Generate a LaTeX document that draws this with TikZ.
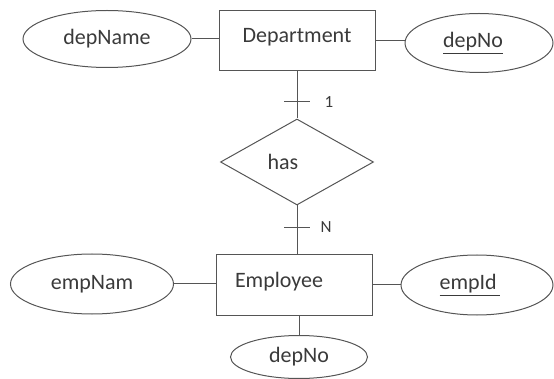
\documentclass[tikz,border=0pt]{standalone}
\usepackage{fontspec}
\setmainfont{Carlito}
\usepackage{xcolor}
\usepackage{tikz}
\usetikzlibrary{shapes,shapes.geometric,positioning,calc}
\definecolor{erline}{HTML}{555555}
\definecolor{ertext}{HTML}{3A3A3A}
\tikzstyle{entity} = [rectangle, draw=erline, line width=1pt, minimum width=156pt, minimum height=60pt, inner sep=0pt, text=ertext, font=\fontsize{22}{26}\selectfont]
\tikzstyle{attribute} = [ellipse, draw=erline, line width=1pt, inner sep=0pt, text=ertext, font=\fontsize{22}{26}\selectfont]
\tikzstyle{relation} = [diamond, draw=erline, line width=1pt, inner sep=0pt, text=ertext, font=\fontsize{22}{26}\selectfont]
\tikzstyle{card} = [text=ertext, font=\fontsize{17}{20}\selectfont]
\tikzset{link/.style={draw=erline, line width=1pt}}

\begin{document}
\begin{tikzpicture}[x=1pt,y=-1pt]
				\useasboundingbox (0,0) rectangle (554,379);
				% entities
				\node[entity] (dep) at (297,41) {\raisebox{12pt}{Department}};
				\node[entity] (emp) at (294,285) {\hspace*{-30pt}\raisebox{10pt}{Employee}};
				% relationship
				\node[relation, minimum width=153pt, minimum height=86pt] (has) at (297,162) {\hspace*{-28pt}has};
				% attributes
				\node[attribute, minimum width=168pt, minimum height=57pt] (depname) at (107,39) {depName};
				\node[attribute, minimum width=148pt, minimum height=59pt] (depno) at (479,43) {\hspace*{-12pt}\underline{depNo}};
				\node[attribute, minimum width=163pt, minimum height=60pt] (empnam) at (92,284) {empNam};
				\node[attribute, minimum width=152pt, minimum height=60pt] (empid) at (477,285) {\hspace*{-14pt}\underline{empId\,}};
				\node[attribute, minimum width=137pt, minimum height=43pt] (empdepno) at (299,357) {depNo};
				% connectors
				\draw[link] (depname.east) -- (depname.east -| dep.west);
				\draw[link] (dep.east) -- (dep.east -| depno.west);
				\draw[link] (empnam.east) -- (empnam.east -| emp.west);
				\draw[link] (emp.east) -- (emp.east -| empid.west);
				\draw[link] (empdepno.north) -- (empdepno.north |- emp.south);
				\draw[link] (dep.south) -- (has.north);
				\draw[link] (has.south) -- (has.south |- emp.north);
				% cardinality marks
				\coordinate (tone) at ($(dep.south)!0.64!(has.north)$);
				\coordinate (tmany) at ($(has.south)!0.44!(has.south |- emp.north)$);
				\draw[link] ([xshift=-13pt]tone) -- ([xshift=13pt]tone);
				\draw[link] ([xshift=-13pt]tmany) -- ([xshift=13pt]tmany);
				\node[card, right=24pt of tone] (one) {1};
				\node[card, right=20pt of tmany] (many) {N};
\end{tikzpicture}
\end{document}
